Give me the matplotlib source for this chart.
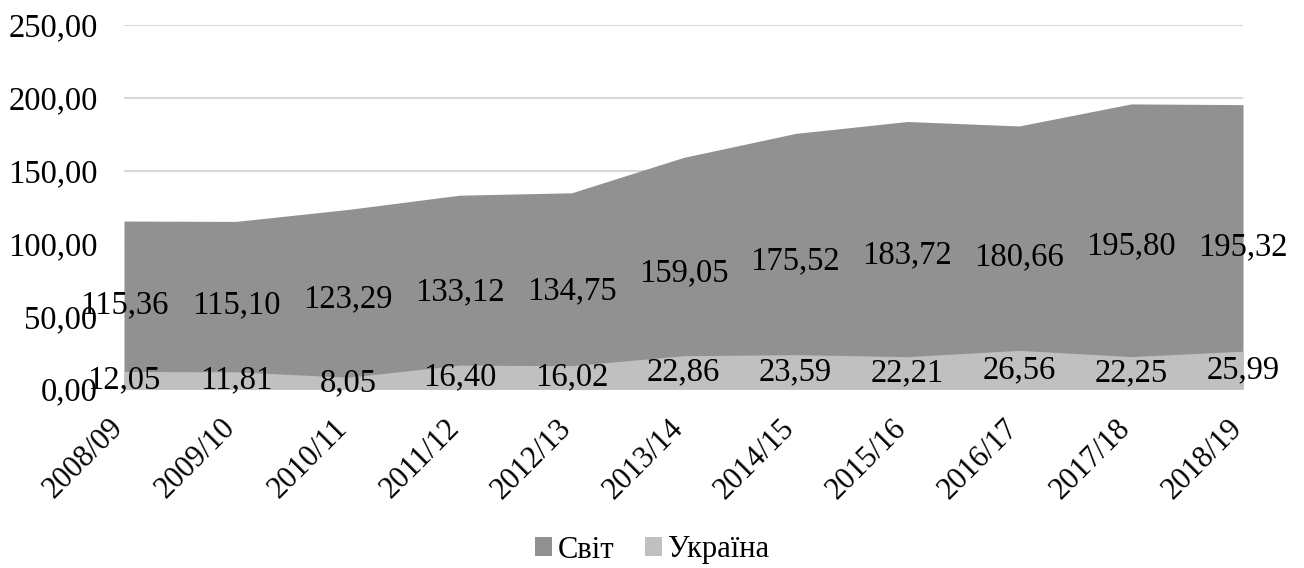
import matplotlib.pyplot as plt
from matplotlib.transforms import ScaledTranslation

seasons = ['2008/09', '2009/10', '2010/11', '2011/12', '2012/13', '2013/14',
           '2014/15', '2015/16', '2016/17', '2017/18', '2018/19']
svit = [115.36, 115.10, 123.29, 133.12, 134.75, 159.05, 175.52, 183.72, 180.66, 195.80, 195.32]
ukraina = [12.05, 11.81, 8.05, 16.40, 16.02, 22.86, 23.59, 22.21, 26.56, 22.25, 25.99]
yticks = [0, 50, 100, 150, 200, 250]

plt.rcParams['font.family'] = ['Liberation Serif', 'DejaVu Serif']
fs = 23.5

def fmt(v):
    return f'{v:.2f}'.replace('.', ',')

fig = plt.figure(figsize=(13.04, 5.68), dpi=100)
ax = fig.add_axes([124 / 1304, 1 - 389 / 568, (1243 - 124) / 1304, (389 - 25) / 568])

x = list(range(len(seasons)))
ax.fill_between(x, 0, svit, color='#919191', lw=0, label='Світ', zorder=2)
ax.fill_between(x, 0, ukraina, color='#c0c0c0', lw=0, label='Україна', zorder=3)

# value labels sit in the middle of each area
for i in x:
    ax.text(i, svit[i] / 2, fmt(svit[i]), ha='center', va='center', fontsize=fs, zorder=5)
    ax.text(i, ukraina[i] / 2, fmt(ukraina[i]), ha='center', va='center', fontsize=fs, zorder=5)

ax.set_xlim(0, len(seasons) - 1)
ax.set_ylim(0, 250)
ax.set_yticks(yticks)
ax.set_yticklabels([fmt(v) for v in yticks], fontsize=fs)
ax.yaxis.grid(True, color='#d9d9d9', lw=1.5, zorder=0)
ax.set_axisbelow(True)
ax.tick_params(axis='both', length=0)
ax.tick_params(axis='y', pad=19)

ax.set_xticks(x)
ax.set_xticklabels(seasons, fontsize=22, rotation=45, ha='right', va='center', rotation_mode='anchor')
ax.tick_params(axis='x', pad=25)
shift = ScaledTranslation(-5 / 100, 0, fig.dpi_scale_trans)
for lab in ax.get_xticklabels():
    lab.set_transform(lab.get_transform() + shift)

for s in ax.spines.values():
    s.set_visible(False)

ax.legend(loc='center', bbox_to_anchor=(0.5, 1 - 550 / 568), bbox_transform=fig.transFigure,
          ncol=2, frameon=False, fontsize=22, handlelength=0.55, handleheight=0.55,
          handletextpad=0.2, columnspacing=1.0)

fig.savefig('out.png', dpi=100)
